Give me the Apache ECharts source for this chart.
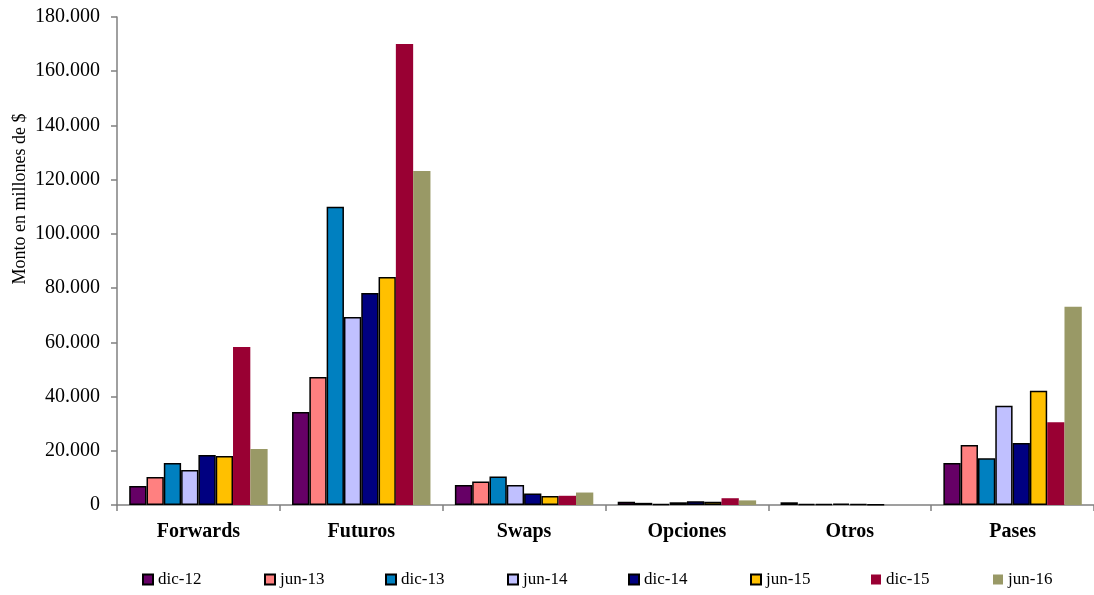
<!DOCTYPE html>
<html>
<head>
<meta charset="utf-8">
<script src="https://cdn.jsdelivr.net/npm/echarts@6/dist/echarts.min.js"></script>
<style>
  html, body { margin: 0; padding: 0; background: #fff; }
  #chart { width: 1094px; height: 595px; }
</style>
</head>
<body>
<div id="chart"></div>
<script>
// Instrumentos derivados: monto en millones de $
const categories = ['Forwards', 'Futuros', 'Swaps', 'Opciones', 'Otros', 'Pases'];
const periods = ['dic-12', 'jun-13', 'dic-13', 'jun-14', 'dic-14', 'jun-15', 'dic-15', 'jun-16'];

const dic12 = [7000, 34300, 7400, 1200, 1000, 15500];
const jun13 = [10300, 47200, 8700, 800, 400, 22100];
const dic13 = [15500, 110000, 10500, 400, 300, 17200];
const jun14 = [12900, 69300, 7400, 1000, 500, 36600];
const dic14 = [18400, 78200, 4200, 1400, 300, 22900];
const jun15 = [18100, 84100, 3300, 1200, 100, 42100];
const dic15 = [58300, 170000, 3400, 2500, 0, 30500];
const jun16 = [20700, 123200, 4600, 1700, 0, 73100];

const seriesValues = [dic12, jun13, dic13, jun14, dic14, jun15, dic15, jun16];
const colors = ['#660066', '#FF8080', '#0080C0', '#C0C0FF', '#000080', '#FFC000', '#990033', '#999966'];
const outlined = [true, true, true, true, true, true, false, false];

const yTicks = { min: 0, max: 180000, interval: 20000 };
const yTitle = 'Monto en millones de $';

const serif = '"Liberation Serif", "Times New Roman", serif';

function fmtThousands(v) {
  return String(v).replace(/\B(?=(\d{3})+(?!\d))/g, '.');
}

// one legend block per period, evenly spaced along the bottom
const legendStart = 142;
const legendStep = 121.5;
const legends = periods.map((name, i) => ({
  data: [name],
  left: Math.round(legendStart + i * legendStep),
  top: 571,
  padding: 0,
  itemWidth: 10,
  itemHeight: 10,
  icon: 'rect',
  textStyle: { fontFamily: serif, fontSize: 17, color: '#000' }
}));

const chart = echarts.init(document.getElementById('chart'), null, { renderer: 'canvas' });

chart.setOption({
  animation: false,
  backgroundColor: '#ffffff',
  grid: { left: 117, top: 17, width: 982, bottom: 90, containLabel: false },
  legend: legends,
  graphic: [{
    type: 'text',
    x: 20,
    y: 199,
    rotation: Math.PI / 2,
    style: {
      text: yTitle,
      fontFamily: serif,
      fontSize: 18,
      fill: '#000',
      align: 'center',
      verticalAlign: 'middle'
    }
  }],
  xAxis: {
    type: 'category',
    data: categories,
    axisLine: { lineStyle: { color: '#808080', width: 1.5 } },
    axisTick: { show: true, length: 6, lineStyle: { color: '#808080', width: 1.5 } },
    axisLabel: { fontFamily: serif, fontSize: 20, fontWeight: 'bold', color: '#000', margin: 17 },
    splitLine: { show: false }
  },
  yAxis: {
    type: 'value',
    min: yTicks.min,
    max: yTicks.max,
    interval: yTicks.interval,
    axisLine: { show: true, lineStyle: { color: '#808080', width: 1.5 } },
    axisTick: { show: true, length: 6, lineStyle: { color: '#808080', width: 1.5 } },
    axisLabel: { fontFamily: serif, fontSize: 20, color: '#000', margin: 17, formatter: fmtThousands },
    splitLine: { show: false }
  },
  series: periods.map((name, i) => ({
    name: name,
    type: 'bar',
    data: seriesValues[i],
    barGap: '0%',
    barCategoryGap: '15%',
    itemStyle: {
      color: colors[i],
      borderColor: outlined[i] ? '#000' : colors[i],
      borderWidth: outlined[i] ? 1.5 : 0
    }
  }))
});
</script>
</body>
</html>
